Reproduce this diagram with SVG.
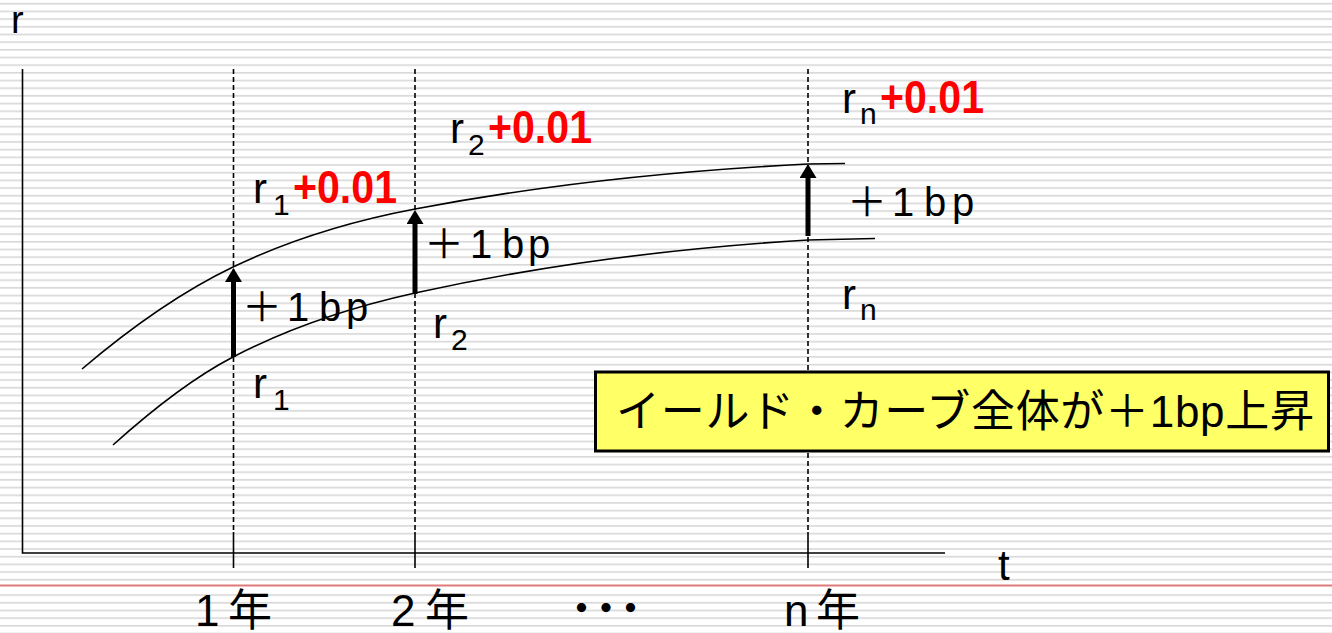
<svg xmlns="http://www.w3.org/2000/svg" width="1332" height="633" viewBox="0 0 1332 633">
<defs>
<pattern id="stripes" x="0" y="0" width="1332" height="7.68" patternUnits="userSpaceOnUse"><rect x="0" y="2.85" width="1332" height="1.7" fill="#d9d9d9"/></pattern>
<marker id="head" markerUnits="userSpaceOnUse" markerWidth="15" markerHeight="17" viewBox="0 0 15 17" refX="1" refY="8.5" orient="auto"><path d="M0,0 L14,8.5 L0,17 z" fill="#000"/></marker>
<style>
.lbl{font-family:"Liberation Sans","Noto Sans CJK JP",sans-serif;fill:#000}
.r{font-size:42px}
.sub{font-size:30px}
.red{font-family:"Liberation Sans",sans-serif;font-weight:bold;font-size:46px;fill:#ff0000}
.bp{font-size:40px}
.yr{font-size:44px}
.axis{stroke:#000;stroke-width:1.6;fill:none}
.tick{stroke:#000;stroke-width:1.6}
.dash{stroke:#000;stroke-width:1.6;stroke-dasharray:5 3;fill:none}
.curve{stroke:#000;stroke-width:1.6;fill:none}
.arrow{stroke:#000;stroke-width:5;marker-end:url(#head)}
</style>
</defs>
<g id="background">
<rect width="1332" height="633" fill="#fff"/>
<rect width="1332" height="633" fill="url(#stripes)"/>
<rect x="0" y="582" width="1332" height="10" fill="#fff"/>
<line x1="0" y1="585.5" x2="1332" y2="585.5" stroke="#e07a7a" stroke-width="2"/>
</g>
<g id="axes">
<path class="axis" d="M22.5,69 V553 H945"/>
<text class="lbl" font-size="38" x="11" y="33">r</text>
<text class="lbl r" x="998" y="580">t</text>
</g>
<g id="gridlines">
<line class="dash" x1="233.5" y1="69" x2="233.5" y2="532"/>
<line class="dash" x1="415" y1="69" x2="415" y2="532"/>
<line class="dash" x1="808" y1="69" x2="808" y2="532"/>
<line class="tick" x1="233.5" y1="532" x2="233.5" y2="568"/>
<line class="tick" x1="415" y1="532" x2="415" y2="568"/>
<line class="tick" x1="808" y1="532" x2="808" y2="568"/>
</g>
<g id="connectors">
<path id="curve-upper" class="curve" d="M82,369 C132,326.5 183,291 233,267 C293.7,237.9 354.3,220.5 415,209 C546,184.1 677,170.6 808,164 L845,163.5"/>
<path id="curve-lower" class="curve" d="M113,445 C153,409 193,377.8 233,357 C293.7,325.4 354.3,306.4 415,293 C546,264.2 677,247.9 808,240 L875,238.5"/>
<line class="arrow" x1="233.5" y1="357" x2="233.5" y2="281"/>
<line class="arrow" x1="415" y1="294" x2="415" y2="223"/>
<line class="arrow" x1="808" y1="236" x2="808" y2="177"/>
</g>
<g id="label-r1-up">
<text class="lbl r" x="253" y="203">r</text>
<text class="lbl sub" x="273" y="215">1</text>
<text class="red" x="293" y="203" textLength="104" lengthAdjust="spacingAndGlyphs">+0.01</text>
</g>
<g id="label-r2-up">
<text class="lbl r" x="450" y="143">r</text>
<text class="lbl sub" x="468" y="155">2</text>
<text class="red" x="488" y="143" textLength="104" lengthAdjust="spacingAndGlyphs">+0.01</text>
</g>
<g id="label-rn-up">
<text class="lbl r" x="842" y="113">r</text>
<text class="lbl sub" x="860" y="124">n</text>
<text class="red" x="880" y="113" textLength="104" lengthAdjust="spacingAndGlyphs">+0.01</text>
</g>
<g id="label-bp1">
<text class="lbl bp" y="321"><tspan x="242">＋</tspan><tspan x="287">1</tspan><tspan x="319">b</tspan><tspan x="346">p</tspan></text>
</g>
<g id="label-bp2">
<text class="lbl bp" y="258"><tspan x="424">＋</tspan><tspan x="470">1</tspan><tspan x="502">b</tspan><tspan x="528">p</tspan></text>
</g>
<g id="label-bpn">
<text class="lbl bp" y="216"><tspan x="847">＋</tspan><tspan x="892">1</tspan><tspan x="924">b</tspan><tspan x="952">p</tspan></text>
</g>
<g id="label-r1-low">
<text class="lbl r" x="253" y="398">r</text>
<text class="lbl sub" x="273" y="410">1</text>
</g>
<g id="label-r2-low">
<text class="lbl r" x="433" y="338">r</text>
<text class="lbl sub" x="451" y="350">2</text>
</g>
<g id="label-rn-low">
<text class="lbl r" x="842" y="309">r</text>
<text class="lbl sub" x="860" y="320">n</text>
</g>
<g id="xlabels">
<text class="lbl yr" y="626"><tspan x="195">1</tspan><tspan x="228">年</tspan></text>
<text class="lbl yr" y="626"><tspan x="391">2</tspan><tspan x="425">年</tspan></text>
<text class="lbl" font-size="36" font-weight="bold" x="563.5" y="622" letter-spacing="-11.5">・・・</text>
<text class="lbl yr" y="626"><tspan x="784">n</tspan><tspan x="816">年</tspan></text>
</g>
<g id="note">
<rect x="595.5" y="372" width="733" height="79" fill="#ffff66" stroke="#000" stroke-width="3"/>
<text class="lbl" font-size="44" x="616" y="427" textLength="698" lengthAdjust="spacing">イールド・カーブ全体が＋1bp上昇</text>
</g>
</svg>
